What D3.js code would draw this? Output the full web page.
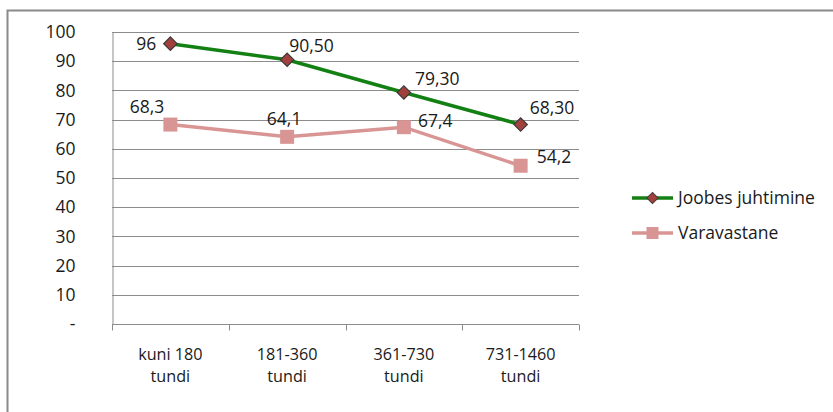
<html>
<head>
    <script src="https://cdn.jsdelivr.net/npm/d3@7"></script>
    <style>
        body { margin: 0; background: #fff; }
        text { font-family: "Open Sans", sans-serif; fill: #1a1a1a; }
        .grid line { stroke: #8c8c8c; stroke-width: 1; }
    </style>
</head>
<body>
    <svg id="container" width="833" height="412"></svg>
<script>
    let categories = [["kuni 180", "tundi"], ["181-360", "tundi"], ["361-730", "tundi"], ["731-1460", "tundi"]]
    let joobes = [96, 90.5, 79.3, 68.3]
    let joobesLabels = ["96", "90,50", "79,30", "68,30"]
    let vara = [68.3, 64.1, 67.4, 54.2]
    let varaLabels = ["68,3", "64,1", "67,4", "54,2"]
    let yTicks = [0, 10, 20, 30, 40, 50, 60, 70, 80, 90, 100]
    let seriesNames = ["Joobes juhtimine", "Varavastane"]

    let svg = d3.select("#container")
    let fs = 17.5

    // outer frame (only top and left visible)
    svg.append("rect").attr("x", 7.5).attr("y", 10.5).attr("width", 840).attr("height", 420)
        .attr("fill", "none").attr("stroke", "#8a8a8a").attr("stroke-width", 2)

    let plotLeft = 112, plotRight = 579, plotTop = 32, plotBottom = 324

    let x = d3.scaleBand().domain(d3.range(categories.length)).range([plotLeft, plotRight])
    let y = d3.scaleLinear().domain([0, 100]).range([plotBottom, plotTop])

    function cx(i) { return x(i) + x.bandwidth() / 2 }

    // gridlines
    svg.append("g").attr("class", "grid")
        .selectAll("line").data(yTicks.slice(1)).enter().append("line")
        .attr("x1", plotLeft).attr("x2", plotRight)
        .attr("y1", d => Math.round(y(d)) + 0.5).attr("y2", d => Math.round(y(d)) + 0.5)

    // axes
    let yAxis = svg.append("g").attr("transform", `translate(${plotLeft + 0.5},0)`)
        .call(d3.axisLeft(y).tickValues(yTicks).tickSize(0).tickPadding(37)
            .tickFormat(d => d === 0 ? "-" : d))
    yAxis.select(".domain").attr("stroke", "#8c8c8c")
    yAxis.selectAll("text").attr("font-size", fs).attr("text-anchor", "end")
        .style("font-family", "'Open Sans', sans-serif").attr("fill", "#1a1a1a")

    let xAxis = svg.append("g").attr("transform", `translate(0,${plotBottom + 0.5})`)
    xAxis.append("line").attr("x1", plotLeft).attr("x2", plotRight).attr("stroke", "#8c8c8c")
    xAxis.selectAll("line.tick").data(d3.range(categories.length + 1)).enter().append("line")
        .attr("class", "tick")
        .attr("x1", d => Math.round(plotLeft + d * x.step()) + 0.5)
        .attr("x2", d => Math.round(plotLeft + d * x.step()) + 0.5)
        .attr("y1", 0).attr("y2", 6).attr("stroke", "#8c8c8c")
    let catGroups = xAxis.selectAll("g.cat").data(categories).enter().append("g").attr("class", "cat")
        .attr("transform", (d, i) => `translate(${cx(i)},0)`)
    catGroups.selectAll("text").data(d => d).enter().append("text")
        .attr("x", 0)
        .attr("y", (d, i) => 35 + i * 22)
        .attr("text-anchor", "middle").attr("font-size", 16.2)
        .text(d => d)

    let line = d3.line().x((d, i) => cx(i)).y(d => y(d))

    // Varavastane
    svg.append("path").datum(vara).attr("d", line)
        .attr("fill", "none").attr("stroke", "#d99594").attr("stroke-width", 3.5)
    svg.selectAll("rect.vara").data(vara).enter().append("rect").attr("class", "vara")
        .attr("x", (d, i) => cx(i) - 7).attr("y", d => y(d) - 7)
        .attr("width", 14).attr("height", 14).attr("fill", "#d99594")

    // Joobes juhtimine
    svg.append("path").datum(joobes).attr("d", line)
        .attr("fill", "none").attr("stroke", "#138013").attr("stroke-width", 3.5)
    let diamond = d3.symbol().type(d3.symbolSquare).size(90)
    svg.selectAll("path.joobes").data(joobes).enter().append("path").attr("class", "joobes")
        .attr("d", diamond)
        .attr("transform", (d, i) => `translate(${cx(i)},${y(d)}) rotate(45)`)
        .attr("fill", "#a2403d").attr("stroke", "#3a3a3a").attr("stroke-width", 1.2)

    // data labels
    let jOff = [[-14, 6, "end"], [2, -8, "start"], [11, -7, "start"], [9, -11, "start"]]
    svg.selectAll("text.jl").data(joobes).enter().append("text").attr("class", "jl")
        .attr("x", (d, i) => cx(i) + jOff[i][0]).attr("y", (d, i) => y(d) + jOff[i][1])
        .attr("text-anchor", (d, i) => jOff[i][2]).attr("font-size", fs)
        .text((d, i) => joobesLabels[i])
    let vOff = [[-6, -12, "end"], [-3, -12, "middle"], [14, 0, "start"], [16, -3, "start"]]
    svg.selectAll("text.vl").data(vara).enter().append("text").attr("class", "vl")
        .attr("x", (d, i) => cx(i) + vOff[i][0]).attr("y", (d, i) => y(d) + vOff[i][1])
        .attr("text-anchor", (d, i) => vOff[i][2]).attr("font-size", fs)
        .text((d, i) => varaLabels[i])

    // legend
    let legend = svg.append("g").attr("transform", "translate(632,198)")
    let lg = legend.selectAll("g").data(seriesNames).enter().append("g")
        .attr("transform", (d, i) => `translate(0,${i * 35})`)
    lg.append("line").attr("x1", 0).attr("x2", 41).attr("y1", 0).attr("y2", 0)
        .attr("stroke", (d, i) => i === 0 ? "#138013" : "#d99594").attr("stroke-width", 3.5)
    lg.filter((d, i) => i === 0).append("path")
        .attr("d", d3.symbol().type(d3.symbolSquare).size(64))
        .attr("transform", "translate(20.5,0) rotate(45)")
        .attr("fill", "#a2403d").attr("stroke", "#3a3a3a").attr("stroke-width", 1)
    lg.filter((d, i) => i === 1).append("rect")
        .attr("x", 14.5).attr("y", -6).attr("width", 12).attr("height", 12).attr("fill", "#d99594")
    lg.append("text").attr("x", 46).attr("y", 6).attr("font-size", fs).text(d => d)
</script>
</body>
</html>
